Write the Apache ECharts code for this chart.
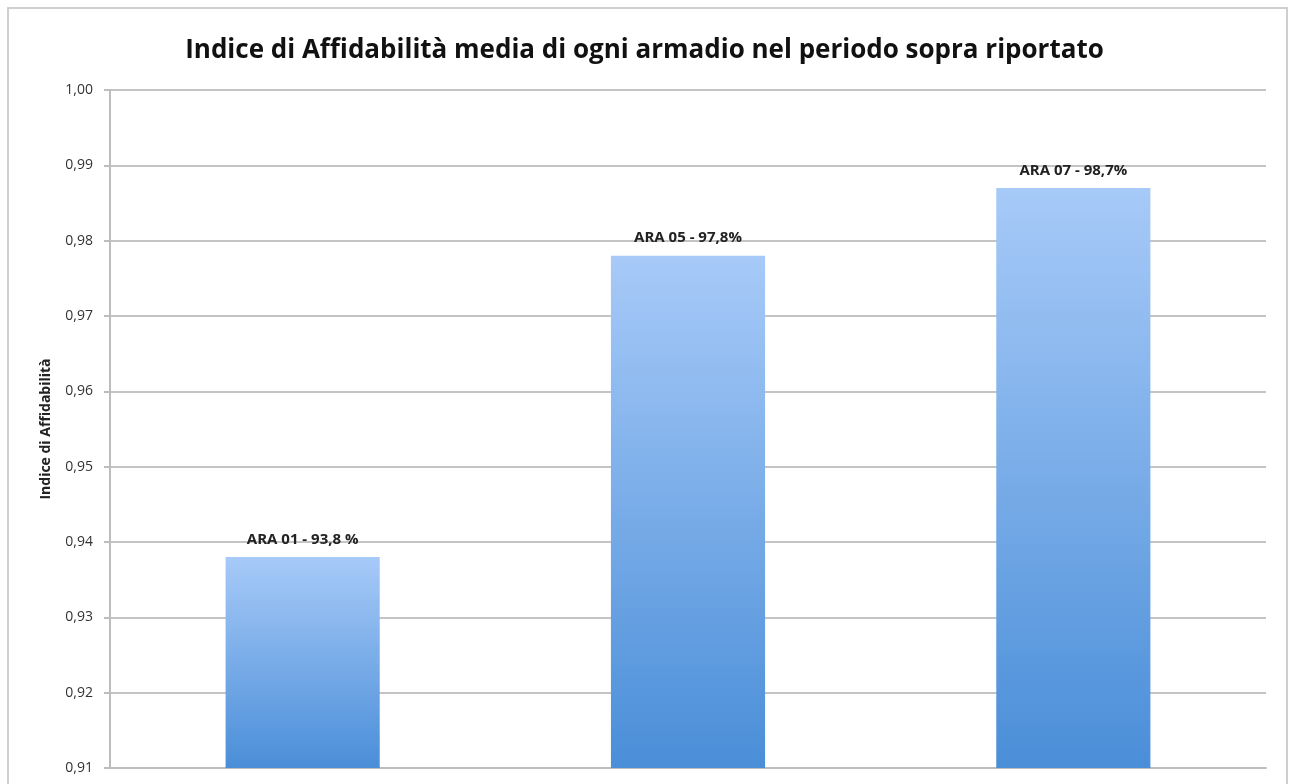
<!DOCTYPE html>
<html>
<head>
<meta charset="utf-8">
<script src="https://cdn.jsdelivr.net/npm/echarts@6/dist/echarts.min.js"></script>
<style>
  html, body { margin: 0; padding: 0; background: #ffffff; }
  #chart { width: 1289px; height: 784px; }
</style>
</head>
<body>
<div id="chart"></div>
<script>
// Armadi e indice di affidabilità medio
const categories = ['ARA 01', 'ARA 05', 'ARA 07'];
const reliability = [0.938, 0.978, 0.987];
const barLabels = ['ARA 01 - 93,8 %', 'ARA 05 - 97,8%', 'ARA 07 - 98,7%'];
const yMin = 0.91;
const yMax = 1.00;
const yStep = 0.01;

const chart = echarts.init(document.getElementById('chart'), null, { renderer: 'canvas' });

const font = '"Open Sans", "DejaVu Sans", sans-serif';

chart.setOption({
  animation: false,
  backgroundColor: '#ffffff',
  graphic: [{
    type: 'rect',
    shape: { x: 8, y: 8, width: 1279, height: 800 },
    style: { fill: 'none', stroke: '#cfcfcf', lineWidth: 2 },
    z: -1
  }],
  title: {
    text: 'Indice di Affidabilità media di ogni armadio nel periodo sopra riportato',
    left: 'center',
    top: 33,
    textStyle: { fontFamily: font, fontWeight: 'bold', fontSize: 26, color: '#111111' }
  },
  grid: { left: 110, right: 23, top: 90, bottom: 16, containLabel: false },
  xAxis: {
    type: 'category',
    data: categories,
    axisLine: { show: true, lineStyle: { color: '#bdbdbd', width: 2 } },
    axisTick: { show: false },
    axisLabel: { show: false },
    splitLine: { show: false }
  },
  yAxis: {
    type: 'value',
    min: yMin,
    max: yMax,
    interval: yStep,
    name: 'Indice di Affidabilità',
    nameLocation: 'middle',
    nameGap: 57,
    nameRotate: 90,
    nameTextStyle: { fontFamily: font, fontWeight: 'bold', fontSize: 14, color: '#222222' },
    axisLine: { show: true, lineStyle: { color: '#bdbdbd', width: 2 } },
    axisTick: { show: true, length: 6, lineStyle: { color: '#bdbdbd', width: 2 } },
    axisLabel: {
      fontFamily: font, fontSize: 14, color: '#333333', margin: 17,
      formatter: v => v.toFixed(2).replace('.', ',')
    },
    splitLine: { show: true, lineStyle: { color: '#c4c4c4', width: 2 } }
  },
  series: [{
    type: 'bar',
    data: reliability,
    barWidth: '40%',
    itemStyle: {
      color: new echarts.graphic.LinearGradient(0, 0, 0, 1, [
        { offset: 0, color: '#a7caf8' },
        { offset: 1, color: '#4a8ed8' }
      ])
    },
    label: {
      show: true,
      position: 'top',
      distance: 10,
      fontFamily: font,
      fontWeight: 'bold',
      fontSize: 15,
      color: '#222222',
      formatter: p => barLabels[p.dataIndex]
    }
  }]
});
</script>
</body>
</html>
